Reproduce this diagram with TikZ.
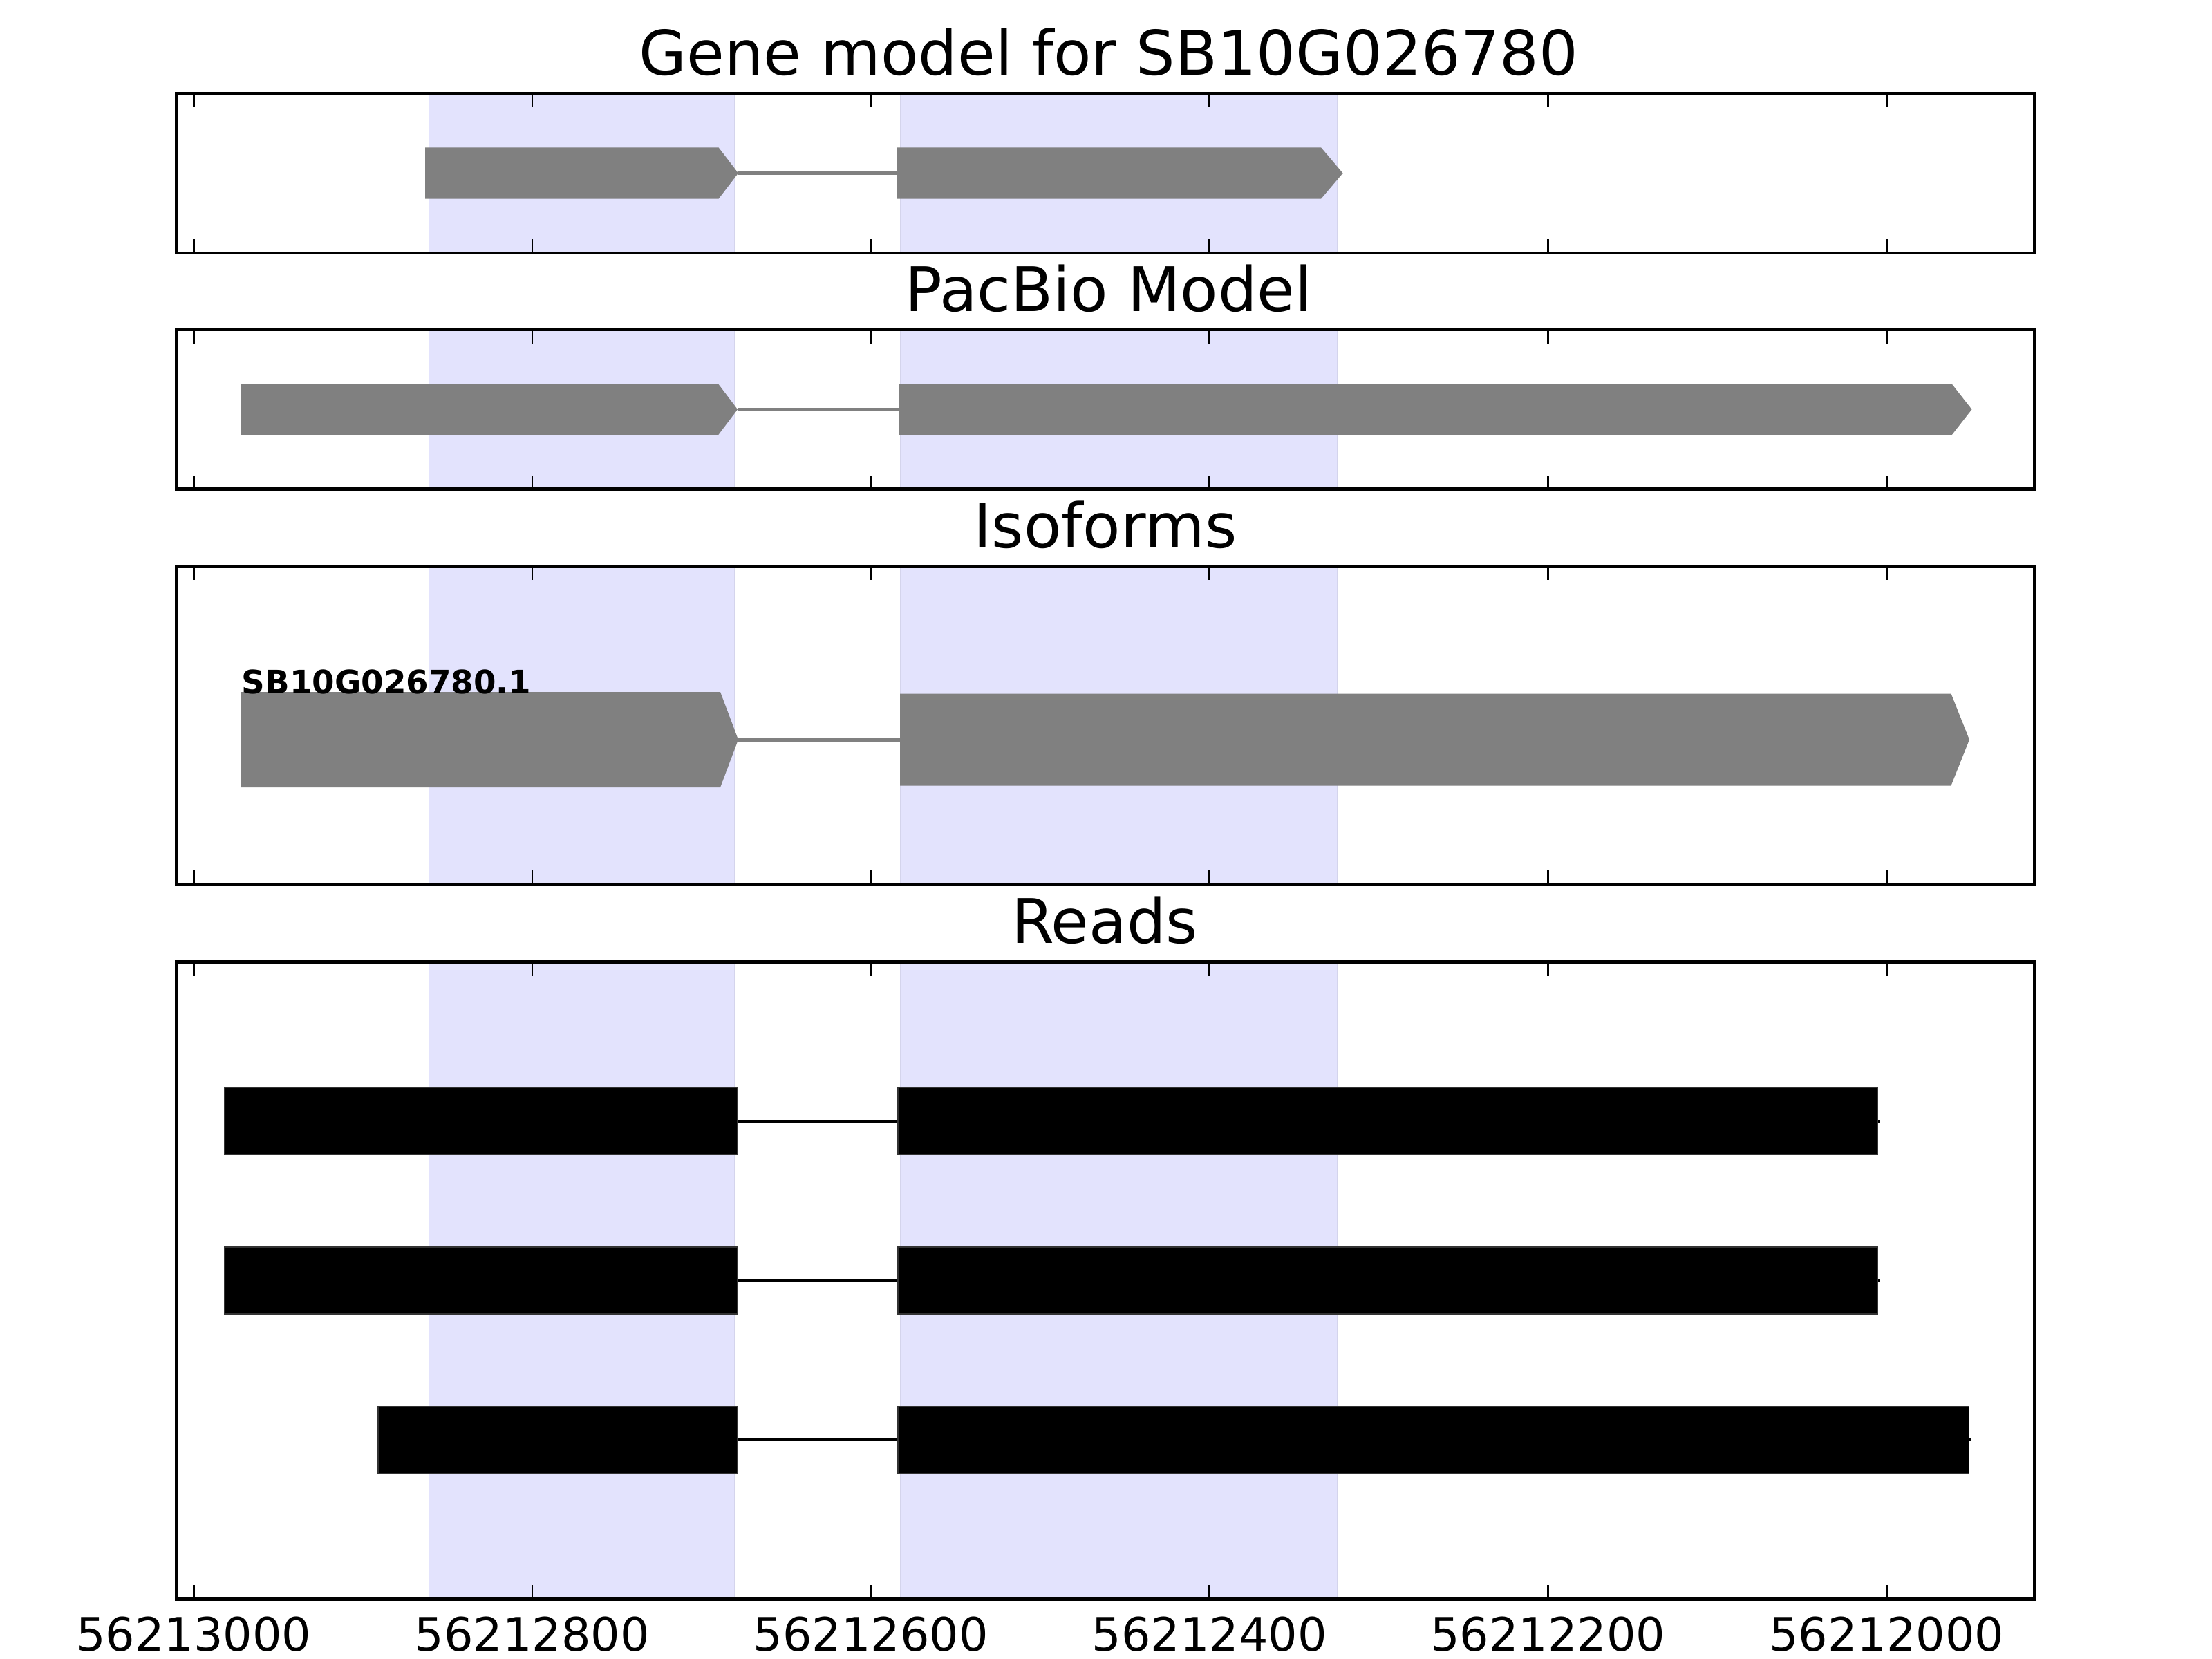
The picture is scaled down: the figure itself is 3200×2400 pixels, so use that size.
\documentclass[tikz,border=0pt]{standalone}
\usepackage{fontspec}
\setmainfont{DejaVu Sans}
\definecolor{shade}{RGB}{227,227,253}
\definecolor{shadeedge}{RGB}{212,212,236}
\definecolor{exongray}{RGB}{128,128,128}
\begin{document}
\begin{tikzpicture}[x=0.01cm,y=-0.01cm,
  frame/.style={draw=black,line width=1.42pt},
  tickmark/.style={draw=black,line width=0.8pt},
  span/.style={fill=shade,draw=shadeedge,line width=0.5pt},
  gexon/.style={fill=exongray},
  gintron/.style={draw=exongray,line width=1.5pt},
  rexon/.style={fill=black,draw=black!80,line width=0.3pt},
  rintron/.style={draw=black,line width=1.3pt},
  ptitle/.style={font=\fontsize{25.3}{30}\selectfont,anchor=base,inner sep=0pt},
  ticklabel/.style={font=\fontsize{19}{23}\selectfont,anchor=base,inner sep=0pt},
  isolabel/.style={font=\fontsize{13.3}{16}\selectfont\bfseries,anchor=base west,inner sep=0pt}]
\useasboundingbox (0,0) rectangle (3200,2400);
\fill[white] (0,0) rectangle (3200,2400);

% shaded exon spans in every panel
\foreach \t/\b in {135/366,476.5/707.5,819/1279,1391.5/2313}{
  \path[span] (620.5,\t) rectangle (1063,\b);
  \path[span] (1303,\t) rectangle (1934.5,\b);
}

% Panel 1: gene model
\coordinate (g1a) at (1068,250.5);
\coordinate (g1b) at (1298,250.5);
\draw[gintron] (g1a) -- (g1b);
\path[gexon] (615,213.3) -- (1039.5,213.3) -- (g1a) -- (1039.5,287.7) -- (615,287.7) -- cycle;
\path[gexon] (g1b) |- (1911,213.3) -- (1942.6,250.5) -- (1911,287.7) -| (g1b) -- cycle;

% Panel 2: PacBio model
\coordinate (g2a) at (1067,592.3);
\coordinate (g2b) at (1300,592.3);
\draw[gintron] (g2a) -- (g2b);
\path[gexon] (349,555.3) -- (1039,555.3) -- (g2a) -- (1039,629.3) -- (349,629.3) -- cycle;
\path[gexon] (g2b) |- (2823.5,555.3) -- (2852.5,592.3) -- (2823.5,629.3) -| (g2b) -- cycle;

% Panel 3: isoforms
\coordinate (g3a) at (1068,1070);
\coordinate (g3b) at (1302,1070);
\draw[gintron] (g3a) -- (g3b);
\path[gexon] (349,1001) -- (1042,1001) -- (g3a) -- (1042,1139) -- (349,1139) -- cycle;
\path[gexon] (g3b) |- (2822.5,1003.5) -- (2849,1070) -- (2822.5,1136.5) -| (g3b) -- cycle;
\node[isolabel] (iso) at (349,1003) {SB10G026780.1};

% Panel 4: reads
\foreach \n/\s/\e/\c in {1/324.5/2716.5/1622, 2/324.5/2716.5/1852.5, 3/547/2848.7/2083}{
  \coordinate (r\n a) at (1066.5,\c);
  \coordinate (r\n b) at (\e+3,\c);
  \draw[rintron] (r\n a) -- (r\n b);
  \path[rexon] (\s,\c-48.5) rectangle (1066.5,\c+48.5);
  \path[rexon] (1299,\c-48.5) rectangle (\e,\c+48.5);
}

% frames and ticks
\foreach \t/\b in {135/366,476.5/707.5,819/1279,1391.5/2313}{
  \foreach \x in {280.2,770,1259.8,1749.6,2239.4,2729.2}{
    \draw[tickmark] (\x,\t) -- ++(0,20);
    \draw[tickmark] (\x,\b) -- ++(0,-20);
  }
  \draw[frame] (255.5,\t) rectangle (2943,\b);
}

% titles
\node[ptitle] (t1) at (1604,109) {Gene model for SB10G026780};
\node[ptitle] (t2) at (1604,450) {PacBio Model};
\node[ptitle] (t3) at (1599,792) {Isoforms};
\node[ptitle] (t4) at (1598,1364) {Reads};

% tick labels
\node[ticklabel] (l1) at (280.2,2388) {56213000};
\node[ticklabel] (l2) at (770,2388) {56212800};
\node[ticklabel] (l3) at (1259.8,2388) {56212600};
\node[ticklabel] (l4) at (1749.6,2388) {56212400};
\node[ticklabel] (l5) at (2239.4,2388) {56212200};
\node[ticklabel] (l6) at (2729.2,2388) {56212000};
\end{tikzpicture}
\end{document}
